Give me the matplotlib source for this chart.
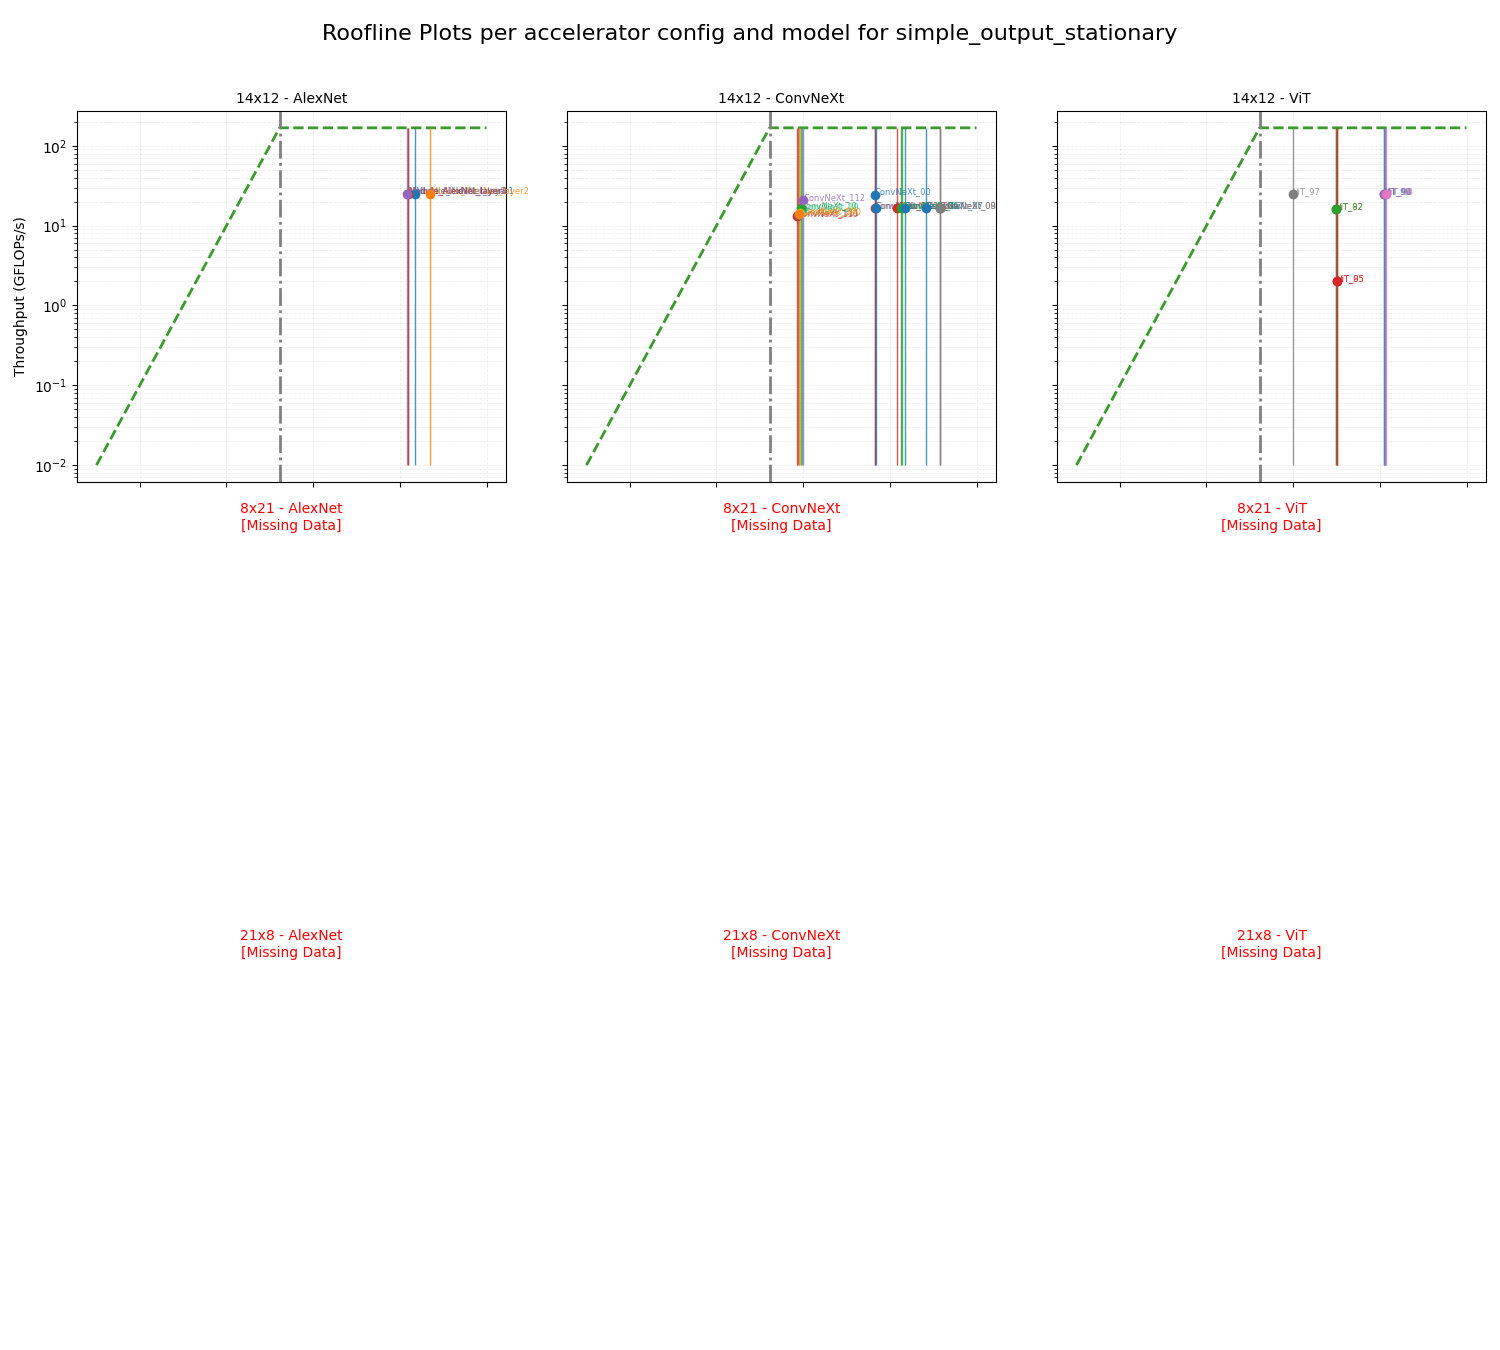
import numpy as np
import matplotlib
matplotlib.use("Agg")
import matplotlib.pyplot as plt

# accelerator configs (rows) and models (columns)
configs = ["14x12", "8x21", "21x8"]
models = ["AlexNet", "ConvNeXt", "ViT"]
dataflow = "simple_output_stationary"

# roofline parameters for the 14x12 config
peak_gflops = 168.0
bandwidth = 10.0
ai_min, ai_max = 1e-3, 1e6

# per-layer results, 14x12 config (arithmetic intensity, GFLOPs/s)
alexnet_labels = ["Module_AlexNet_layer1", "Module_AlexNet_layer2", "Module_AlexNet_layer3",
                  "Module_AlexNet_layer4", "Module_AlexNet_layer5"]
alexnet_ai = [22000, 48900, 15500, 15500, 14400]
alexnet_perf = [25.0, 25.0, 25.0, 25.0, 25.0]
alexnet_colors = ["C0", "C1", "C2", "C3", "C4"]

convnext_labels = ["ConvNeXt_00", "ConvNeXt_01", "ConvNeXt_02", "ConvNeXt_03", "ConvNeXt_04",
                   "ConvNeXt_05", "ConvNeXt_06", "ConvNeXt_07", "ConvNeXt_09", "ConvNeXt_08",
                   "ConvNeXt_110", "ConvNeXt_111", "ConvNeXt_19", "ConvNeXt_10", "ConvNeXt_98",
                   "ConvNeXt_112", "ConvNeXt_100"]
convnext_ai = [4490, 4490, 4730, 14700, 18500,
               19500, 22000, 68500, 141000, 141000,
               70.5, 75.5, 96, 87, 85,
               100, 81]
convnext_perf = [24.5, 16.7, 16.7, 16.7, 16.7,
                 16.7, 16.7, 16.7, 16.7, 16.7,
                 13.2, 13.5, 16.0, 16.7, 14.2,
                 20.9, 14.0]
convnext_colors = ["C0", "C3", "C0", "C3", "C2",
                   "C2", "C0", "C0", "C5", "C7",
                   "C3", "C5", "C9", "C2", "C8",
                   "C4", "C1"]

vit_labels = ["ViT_97", "ViT_82", "ViT_92", "ViT_95", "ViT_85",
              "ViT_90", "ViT_96", "ViT_93", "ViT_99", "ViT_98"]
vit_ai = [98.5, 948, 948, 1038, 1038,
          12300, 12800, 13400, 12300, 14100]
vit_perf = [24.9, 16.2, 16.2, 2.04, 2.04,
            24.9, 24.9, 24.9, 24.9, 24.9]
vit_colors = ["C7", "C5", "C2", "C3", "C3",
              "C0", "C5", "C9", "C4", "C6"]

results = {
    ("14x12", "AlexNet"): (alexnet_labels, alexnet_ai, alexnet_perf, alexnet_colors),
    ("14x12", "ConvNeXt"): (convnext_labels, convnext_ai, convnext_perf, convnext_colors),
    ("14x12", "ViT"): (vit_labels, vit_ai, vit_perf, vit_colors),
}

fig, axes = plt.subplots(3, 3, figsize=(15, 13.5), dpi=100, sharex=True, sharey=True)
fig.subplots_adjust(left=0.0513, right=0.9907, top=0.9178, bottom=0.0104,
                    wspace=0.142, hspace=0.151)

ridge = peak_gflops / bandwidth
roof_x = [ai_min, ridge, ai_max]
roof_y = [bandwidth * ai_min, peak_gflops, peak_gflops]

for r, cfg in enumerate(configs):
    for c, model in enumerate(models):
        ax = axes[r, c]
        if (cfg, model) not in results:
            ax.set_title(f"{cfg} - {model}\n[Missing Data]", color="red", fontsize=10)
            ax.axis("off")
            continue
        labels, ai, perf, cols = results[(cfg, model)]
        ax.plot(roof_x, roof_y, color="#3a9a2c", ls="--", lw=2)
        ax.axvline(ridge, color="gray", ls="-.", lw=2)
        for lab, x, y, col in zip(labels, ai, perf, cols):
            ax.vlines(x, bandwidth * ai_min, peak_gflops, color=col, lw=1, alpha=0.8)
            ax.plot(x, y, "o", color=col, ms=6, zorder=5)
            ax.text(x, y, lab, fontsize=6, color=col, alpha=0.8)
        ax.set_xscale("log")
        ax.set_yscale("log")
        ax.grid(True, which="both", ls="--", lw=0.6, alpha=0.2)
        ax.set_title(f"{cfg} - {model}", fontsize=10)
        if c == 0:
            ax.set_ylabel("Throughput (GFLOPs/s)")

fig.suptitle(f"Roofline Plots per accelerator config and model for {dataflow}",
             fontsize=16, y=0.982)
fig.savefig("out.png")
